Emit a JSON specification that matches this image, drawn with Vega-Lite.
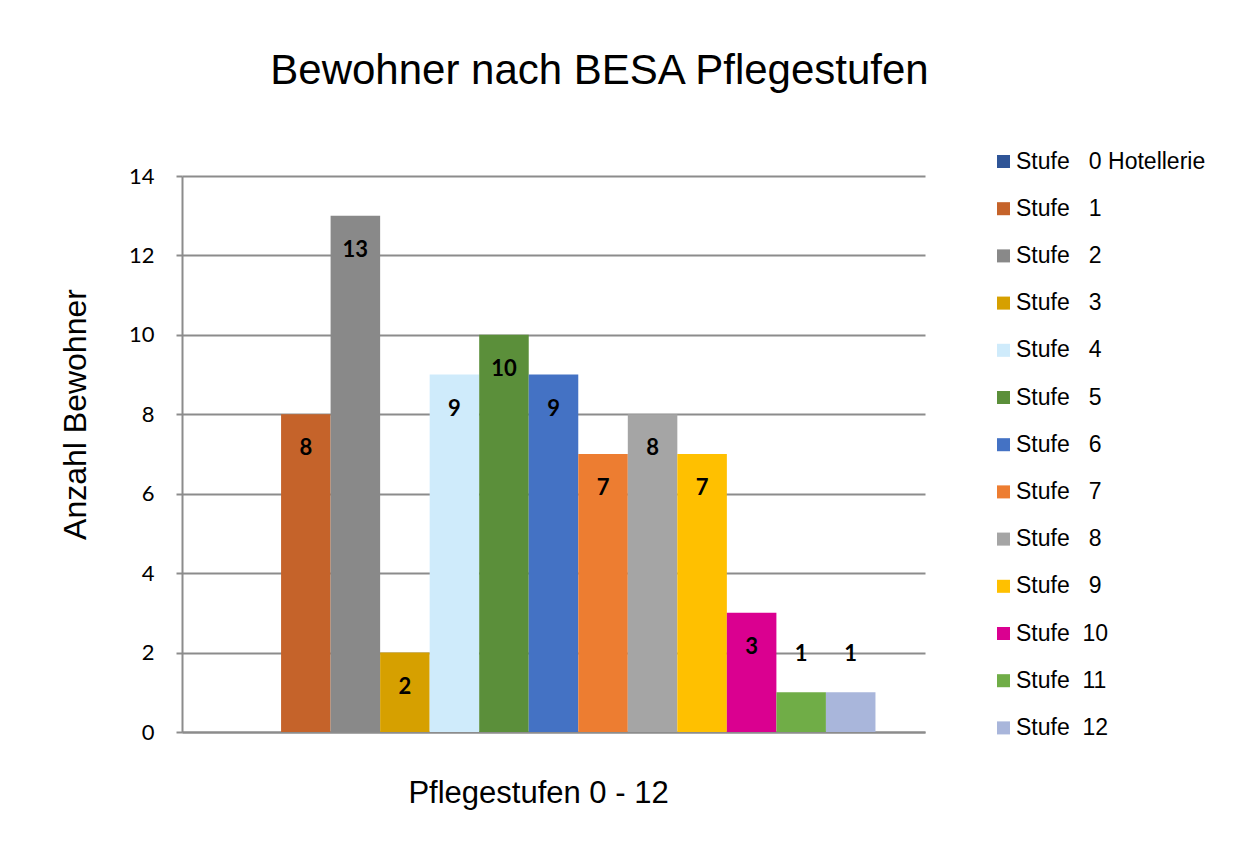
{
  "$schema": "https://vega.github.io/schema/vega-lite/v6.json",
  "width": 743,
  "height": 556,
  "autosize": "none",
  "padding": {"left": 182, "top": 176, "right": 334, "bottom": 116},
  "background": "white",
  "title": {
    "text": "Bewohner nach BESA Pflegestufen",
    "font": "Liberation Sans",
    "fontSize": 42,
    "fontWeight": "normal",
    "color": "#000000",
    "anchor": "middle",
    "dx": 46,
    "offset": 57
  },
  "data": {
    "values": [
      {"Stufe": "Stufe\u00a0\u00a0\u00a00 Hotellerie", "Anzahl": 0},
      {"Stufe": "Stufe\u00a0\u00a0\u00a01", "Anzahl": 8},
      {"Stufe": "Stufe\u00a0\u00a0\u00a02", "Anzahl": 13},
      {"Stufe": "Stufe\u00a0\u00a0\u00a03", "Anzahl": 2},
      {"Stufe": "Stufe\u00a0\u00a0\u00a04", "Anzahl": 9},
      {"Stufe": "Stufe\u00a0\u00a0\u00a05", "Anzahl": 10},
      {"Stufe": "Stufe\u00a0\u00a0\u00a06", "Anzahl": 9},
      {"Stufe": "Stufe\u00a0\u00a0\u00a07", "Anzahl": 7},
      {"Stufe": "Stufe\u00a0\u00a0\u00a08", "Anzahl": 8},
      {"Stufe": "Stufe\u00a0\u00a0\u00a09", "Anzahl": 7},
      {"Stufe": "Stufe\u00a0\u00a010", "Anzahl": 3},
      {"Stufe": "Stufe\u00a0\u00a011", "Anzahl": 1},
      {"Stufe": "Stufe\u00a0\u00a012", "Anzahl": 1}
    ]
  },
  "encoding": {
    "x": {
      "field": "Stufe",
      "type": "nominal",
      "sort": null,
      "scale": {"paddingInner": 0, "paddingOuter": 1},
      "axis": {
        "title": "Pflegestufen 0 - 12",
        "titleFont": "Liberation Sans",
        "titleFontSize": 31,
        "titleFontWeight": "normal",
        "titleColor": "#000000",
        "titleX": 356,
        "titleY": 61,
        "titleAlign": "center",
        "titleBaseline": "middle",
        "labels": false,
        "ticks": false,
        "domainColor": "#8c8c8c",
        "domainWidth": 2
      }
    },
    "y": {
      "field": "Anzahl",
      "type": "quantitative",
      "scale": {"domain": [0, 14]},
      "axis": {
        "title": "Anzahl Bewohner",
        "titleFont": "Liberation Sans",
        "titleFontSize": 32,
        "titleFontWeight": "normal",
        "titleColor": "#000000",
        "titleX": -107,
        "titleY": 238,
        "titleAlign": "center",
        "titleBaseline": "middle",
        "values": [0, 2, 4, 6, 8, 10, 12, 14],
        "labelFont": "Lato",
        "labelFontSize": 22,
        "labelColor": "#000000",
        "labelPadding": 22,
        "tickSize": 6,
        "tickColor": "#8c8c8c",
        "tickWidth": 2,
        "domainColor": "#8c8c8c",
        "domainWidth": 2,
        "grid": true,
        "gridColor": "#8c8c8c",
        "gridWidth": 2
      }
    }
  },
  "layer": [
    {
      "mark": {"type": "bar"},
      "encoding": {
        "color": {
          "field": "Stufe",
          "type": "nominal",
          "sort": null,
          "scale": {
            "range": ["#2F5597", "#C5632A", "#898989", "#D6A000", "#CFEBFB", "#5B8F3A", "#4472C4", "#ED7D31", "#A5A5A5", "#FFC000", "#DA0090", "#70AD47", "#A9B6DB"]
          },
          "legend": {
            "title": null,
            "orient": "none",
            "legendX": 810,
            "legendY": -26,
            "symbolType": "square",
            "symbolSize": 170,
            "symbolStrokeWidth": 0,
            "labelFont": "Liberation Sans",
            "labelFontSize": 23,
            "labelColor": "#000000",
            "labelLimit": 300,
            "labelOffset": 1,
            "rowPadding": 23.2
          }
        }
      }
    },
    {
      "transform": [{"filter": "datum.Anzahl > 1"}],
      "mark": {"type": "text", "font": "Lato", "fontSize": 22, "fontWeight": "bold", "color": "#000000", "baseline": "middle", "dy": 34},
      "encoding": {"text": {"field": "Anzahl", "type": "quantitative"}}
    },
    {
      "transform": [{"filter": "datum.Anzahl == 1"}],
      "mark": {"type": "text", "font": "Lato", "fontSize": 22, "fontWeight": "bold", "color": "#000000", "baseline": "middle", "dy": -38},
      "encoding": {"text": {"field": "Anzahl", "type": "quantitative"}}
    }
  ],
  "config": {"view": {"stroke": null}}
}
